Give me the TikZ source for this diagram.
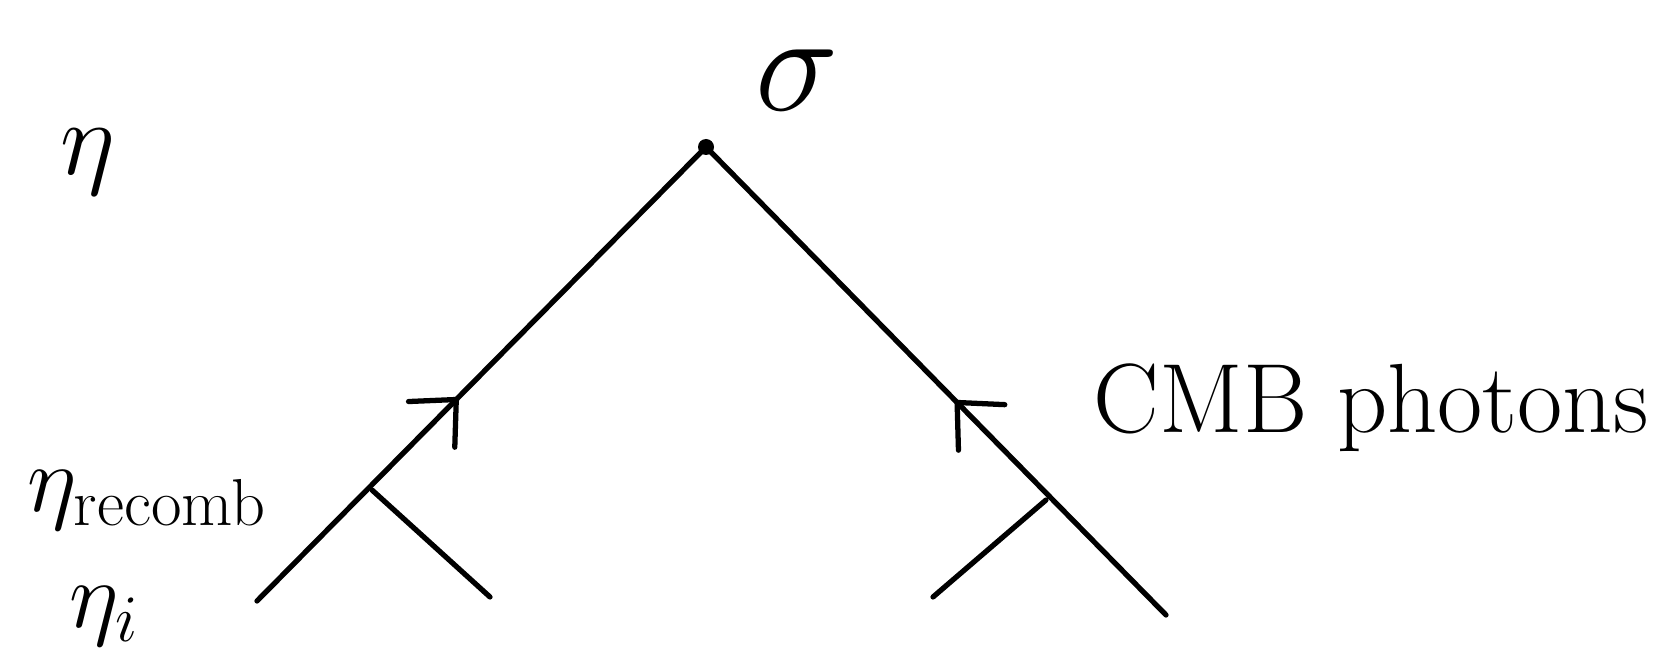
\documentclass[tikz,border=0pt]{standalone}
\usepackage{fix-cm}
\usetikzlibrary{arrows.meta,decorations.markings}
\begin{document}
\begin{tikzpicture}[x=0.02cm,y=-0.02cm,
  ln/.style={line width=3pt,line cap=round,line join=round},
  arrowline/.style={ln,postaction={decorate},decoration={markings,
     mark=at position #1 with {\arrow[line width=3pt]{Straight Barb[length=0.7cm,width=1.3cm,line cap=round]}}}},
  lbl/.style={inner sep=0pt,font=\fontsize{48}{56}\selectfont}]
\useasboundingbox (0,0) rectangle (1677,658);
\coordinate (apex) at (706,147);
\coordinate (L) at (257,601);
\coordinate (R) at (1166,615);
\coordinate (Lb) at (372,490);
\coordinate (Lbe) at (490,597);
\coordinate (Rb) at (1046,500);
\coordinate (Rbe) at (933,597);
\draw[arrowline=0.45] (L) -- (apex);
\draw[arrowline=0.46] (R) -- (apex);
\draw[ln] (Lb) -- (Lbe);
\draw[ln] (Rb) -- (Rbe);
\fill (apex) circle (0.16cm);
\node[lbl,font=\fontsize{80}{90}\selectfont] (sig) at (797,80) {$\sigma$};
\node[lbl,font=\fontsize{60}{70}\selectfont] (eta) at (88,162) {$\eta$};
\node[lbl,font=\fontsize{54}{62}\selectfont] (rec) at (147,500) {$\eta_{\mathrm{recomb}}$};
\node[lbl,font=\fontsize{54}{62}\selectfont] (etai) at (104,616) {$\eta_i$};
\node[lbl,font=\fontsize{56}{64}\selectfont] (cmb) at (1371,408) {CMB photons};
\end{tikzpicture}
\end{document}
